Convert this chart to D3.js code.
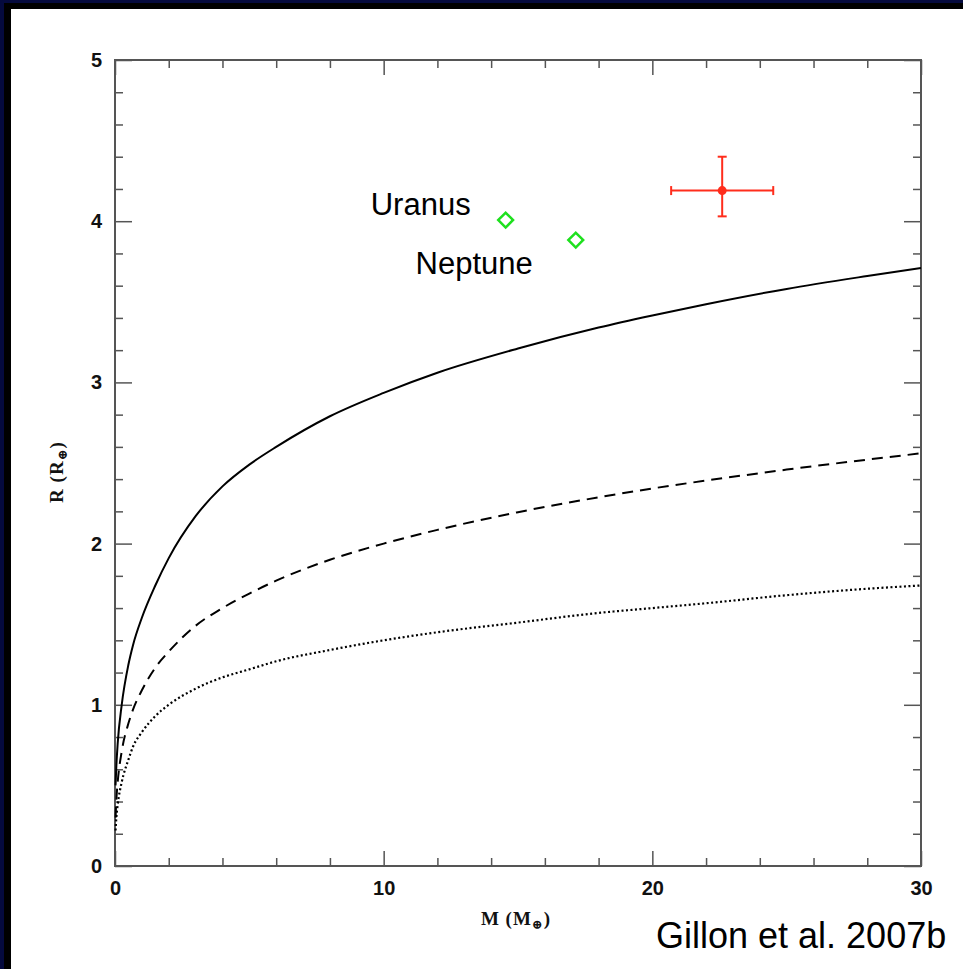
<!DOCTYPE html>
<html lang="en">
<head>
    <meta charset="UTF-8">
    <title>Mass-radius diagram</title>
    <style>
        body { margin: 0; padding: 0; overflow: hidden; background: #000; }
        .tick text { font-family: "Liberation Sans", Arial, sans-serif; font-weight: bold; font-size: 20px; fill: #111; }
        .tick line { stroke: #555; stroke-width: 1.5px; }
        .axis-label { font-family: "Liberation Serif", "DejaVu Serif", serif; font-weight: bold; font-size: 19px; letter-spacing: 1px; fill: #111; }
        .note { font-family: "Liberation Sans", Arial, sans-serif; fill: #000; }
    </style>
</head>
<body>
    <script src="https://d3js.org/d3.v7.min.js"></script>
    <script>
        // mass grid (Earth masses) and the three model curves (Earth radii)
        const curveMass = [0.02, 0.05, 0.1, 0.25, 0.5, 0.67, 1, 1.5, 2, 3, 4, 5, 6, 8, 10, 12, 15, 18, 20, 22, 25, 28, 30];
        const solidR  = [0.50, 0.62, 0.76, 1.00, 1.25, 1.37, 1.54, 1.74, 1.91, 2.17, 2.355, 2.49, 2.60, 2.79, 2.935, 3.06, 3.21, 3.34, 3.415, 3.485, 3.58, 3.66, 3.71];
        const dashedR = [0.30, 0.41, 0.52, 0.71, 0.885, 0.97, 1.09, 1.23, 1.33, 1.49, 1.60, 1.69, 1.77, 1.90, 2.00, 2.085, 2.195, 2.287, 2.342, 2.391, 2.459, 2.521, 2.56];
        const dottedR = [0.22, 0.30, 0.38, 0.52, 0.66, 0.74, 0.83, 0.93, 1.00, 1.10, 1.17, 1.22, 1.27, 1.34, 1.40, 1.45, 1.51, 1.57, 1.60, 1.63, 1.68, 1.72, 1.74];

        // solar system ice giants
        const planetNames = ["Uranus", "Neptune"];
        const planetMass = [14.54, 17.15];
        const planetRadius = [4.007, 3.883];

        // GJ 436b measurement
        const gjMass = 22.6, gjMassErr = 1.9;
        const gjRadius = 4.19, gjRadiusUp = 0.21, gjRadiusDown = 0.16;

        const xMajor = [0, 10, 20, 30];
        const xMinor = [2, 4, 6, 8, 12, 14, 16, 18, 22, 24, 26, 28];
        const yMajor = [0, 1, 2, 3, 4, 5];
        const yMinor = d3.range(0, 5.01, 0.2).map(v => +v.toFixed(1)).filter(v => v % 1 !== 0);

        const width = 963, height = 969;
        const pLeft = 115, pRight = 921, pTop = 60, pBottom = 866;

        const svg = d3.select("body").append("svg")
            .attr("width", width)
            .attr("height", height);

        // slide border
        svg.append("rect").attr("width", width).attr("height", height).attr("fill", "#050a3e");
        svg.append("rect").attr("x", 4).attr("y", 3).attr("width", width).attr("height", height).attr("fill", "#000");
        svg.append("rect").attr("x", 11).attr("y", 9).attr("width", width).attr("height", height).attr("fill", "#fff");

        const x = d3.scaleLinear().domain([0, 30]).range([pLeft, pRight]);
        const y = d3.scaleLinear().domain([0, 5]).range([pBottom, pTop]);

        function addAxis(axis, tx, ty) {
            const g = svg.append("g").attr("transform", `translate(${tx},${ty})`).call(axis);
            g.select(".domain").remove();
            return g;
        }

        // bottom
        addAxis(d3.axisBottom(x).tickValues(xMajor).tickSizeInner(-15).tickSizeOuter(0).tickPadding(15).tickFormat(d3.format("d")), 0, pBottom);
        addAxis(d3.axisBottom(x).tickValues(xMinor).tickSizeInner(-8).tickSizeOuter(0).tickFormat(""), 0, pBottom);
        // top
        addAxis(d3.axisTop(x).tickValues(xMajor).tickSizeInner(-15).tickSizeOuter(0).tickFormat(""), 0, pTop);
        addAxis(d3.axisTop(x).tickValues(xMinor).tickSizeInner(-8).tickSizeOuter(0).tickFormat(""), 0, pTop);
        // left
        addAxis(d3.axisLeft(y).tickValues(yMajor).tickSizeInner(-17).tickSizeOuter(0).tickPadding(13).tickFormat(d3.format("d")), pLeft, 0);
        addAxis(d3.axisLeft(y).tickValues(yMinor).tickSizeInner(-8).tickSizeOuter(0).tickFormat(""), pLeft, 0);
        // right
        addAxis(d3.axisRight(y).tickValues(yMajor).tickSizeInner(-17).tickSizeOuter(0).tickFormat(""), pRight, 0);
        addAxis(d3.axisRight(y).tickValues(yMinor).tickSizeInner(-8).tickSizeOuter(0).tickFormat(""), pRight, 0);

        // frame
        svg.append("rect")
            .attr("x", pLeft).attr("y", pTop)
            .attr("width", pRight - pLeft).attr("height", pBottom - pTop)
            .attr("fill", "none").attr("stroke", "#555").attr("stroke-width", 2);

        // model curves
        const line = d3.line()
            .x(d => x(d[0]))
            .y(d => y(d[1]))
            .curve(d3.curveMonotoneX);

        const curves = [
            { r: solidR, dash: null, w: 2 },
            { r: dashedR, dash: "11,7", w: 2 },
            { r: dottedR, dash: "2,2.5", w: 2.2 }
        ];
        curves.forEach(c => {
            svg.append("path")
                .datum(curveMass.map((m, i) => [m, c.r[i]]))
                .attr("d", line)
                .attr("fill", "none")
                .attr("stroke", "#000")
                .attr("stroke-width", c.w)
                .attr("stroke-dasharray", c.dash);
        });

        // Uranus and Neptune
        const diamond = d3.symbol().type(d3.symbolSquare).size(110);
        planetNames.forEach((name, i) => {
            svg.append("path")
                .attr("d", diamond)
                .attr("transform", `translate(${x(planetMass[i])},${y(planetRadius[i])}) rotate(45)`)
                .attr("fill", "none")
                .attr("stroke", "#1ee01e")
                .attr("stroke-width", 2.5);
        });
        svg.append("text").attr("class", "note")
            .attr("x", x(planetMass[0]) - 35).attr("y", y(planetRadius[0]) - 5)
            .attr("text-anchor", "end").attr("font-size", 31)
            .text(planetNames[0]);
        svg.append("text").attr("class", "note")
            .attr("x", x(planetMass[1]) - 43).attr("y", y(planetRadius[1]) + 34)
            .attr("text-anchor", "end").attr("font-size", 31)
            .text(planetNames[1]);

        // GJ 436b with error bars
        const red = "#ff2d1c";
        const gx = x(gjMass), gy = y(gjRadius);
        const xl = x(gjMass - gjMassErr), xr = x(gjMass + gjMassErr);
        const yt = y(gjRadius + gjRadiusUp), yb = y(gjRadius - gjRadiusDown);
        const err = svg.append("g").attr("stroke", red).attr("stroke-width", 2);
        err.append("line").attr("x1", xl).attr("x2", xr).attr("y1", gy).attr("y2", gy);
        err.append("line").attr("x1", gx).attr("x2", gx).attr("y1", yt).attr("y2", yb);
        err.append("line").attr("x1", xl).attr("x2", xl).attr("y1", gy - 4.5).attr("y2", gy + 4.5);
        err.append("line").attr("x1", xr).attr("x2", xr).attr("y1", gy - 4.5).attr("y2", gy + 4.5);
        err.append("line").attr("x1", gx - 4.5).attr("x2", gx + 4.5).attr("y1", yt).attr("y2", yt);
        err.append("line").attr("x1", gx - 4.5).attr("x2", gx + 4.5).attr("y1", yb).attr("y2", yb);
        svg.append("circle").attr("cx", gx).attr("cy", gy).attr("r", 4.5).attr("fill", red);

        // axis titles
        const xt = svg.append("text").attr("class", "axis-label")
            .attr("x", (pLeft + pRight) / 2 - 2).attr("y", 925)
            .attr("text-anchor", "middle");
        xt.append("tspan").text("M (M");
        xt.append("tspan").attr("dy", 4).attr("font-size", 13).text("\u2295");
        xt.append("tspan").attr("dy", -4).text(")");

        const yt2 = svg.append("text").attr("class", "axis-label")
            .attr("transform", `translate(63,${(pTop + pBottom) / 2 + 9}) rotate(-90)`)
            .attr("text-anchor", "middle");
        yt2.append("tspan").text("R (R");
        yt2.append("tspan").attr("dy", 4).attr("font-size", 13).text("\u2295");
        yt2.append("tspan").attr("dy", -4).text(")");

        // citation
        svg.append("text").attr("class", "note")
            .attr("x", 656).attr("y", 948)
            .attr("font-size", 36)
            .text("Gillon et al. 2007b");
    </script>
</body>
</html>
